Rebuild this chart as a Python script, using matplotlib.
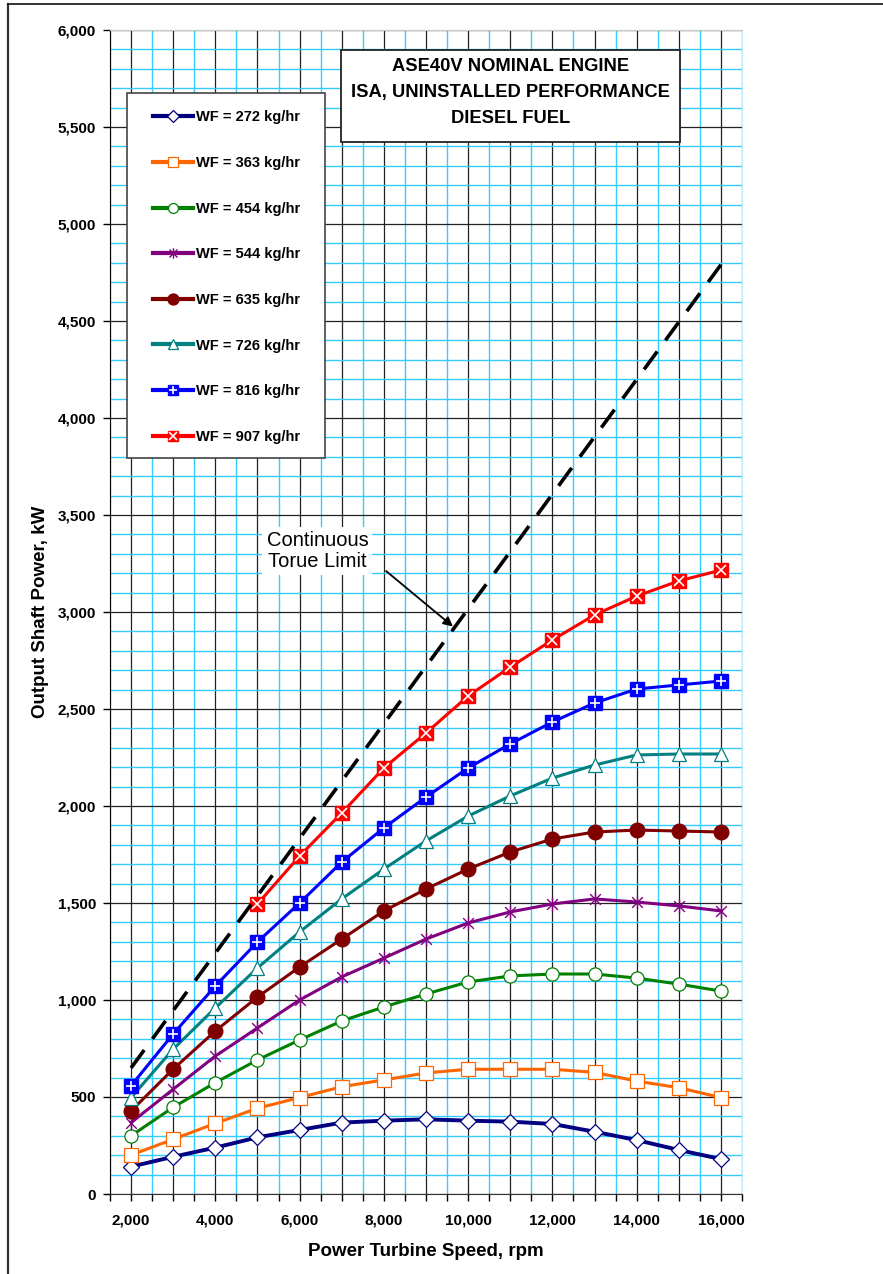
import matplotlib
matplotlib.use('Agg')
import matplotlib.pyplot as plt
import matplotlib.ticker as ticker
from matplotlib.lines import Line2D
from matplotlib.patches import Rectangle
from matplotlib.path import Path
import numpy as np

# plot settings
plt.rcParams['font.family'] = ['Liberation Sans', 'DejaVu Sans']
plt.rcParams['font.weight'] = 'bold'
plt.rcParams['lines.scale_dashes'] = False

navy = '#000080'
orange = '#FF6600'
green = '#008000'
purple = '#800080'
darkred = '#800000'
teal = '#008080'
blue = '#0000FF'
red = '#FF0000'
cyan = '#33CCFF'

# data
rpm = [2000, 3000, 4000, 5000, 6000, 7000, 8000, 9000, 10000, 11000, 12000, 13000, 14000, 15000, 16000]
wf272 = [141, 192, 239, 292, 330, 368, 378, 385, 378, 373, 361, 321, 278, 227, 180]
wf363 = [201, 282, 364, 442, 497, 553, 588, 624, 643, 643, 643, 627, 582, 548, 497]
wf454 = [300, 447, 574, 691, 794, 892, 964, 1031, 1093, 1124, 1134, 1134, 1113, 1082, 1046]
wf544 = [368, 540, 711, 856, 1000, 1119, 1216, 1314, 1397, 1454, 1495, 1521, 1505, 1485, 1459]
wf635 = [428, 644, 840, 1015, 1170, 1314, 1459, 1572, 1675, 1763, 1830, 1866, 1876, 1871, 1866]
wf726 = [497, 747, 959, 1165, 1351, 1521, 1675, 1820, 1948, 2052, 2144, 2211, 2263, 2268, 2268]
wf816 = [558, 825, 1072, 1299, 1500, 1711, 1887, 2046, 2196, 2320, 2433, 2531, 2603, 2624, 2644]
rpm907 = [5000, 6000, 7000, 8000, 9000, 10000, 11000, 12000, 13000, 14000, 15000, 16000]
wf907 = [1495, 1742, 1964, 2196, 2376, 2567, 2716, 2856, 2985, 3082, 3160, 3216]
limit_rpm = [2000, 16000]
limit_kw = [650, 4790]

labels = ['WF = 272 kg/hr', 'WF = 363 kg/hr', 'WF = 454 kg/hr', 'WF = 544 kg/hr',
          'WF = 635 kg/hr', 'WF = 726 kg/hr', 'WF = 816 kg/hr', 'WF = 907 kg/hr']

# asterisk marker like excel (x plus vertical bar)
star = Path([(-1, -1), (1, 1), (-1, 1), (1, -1), (0, -1.3), (0, 1.3)],
            [Path.MOVETO, Path.LINETO, Path.MOVETO, Path.LINETO, Path.MOVETO, Path.LINETO])

fig = plt.figure(figsize=(8.83, 12.74), dpi=100)
ax = fig.add_axes([110/883, 1-1194/1274, 632/883, 1164/1274])

lw = 2.2
handles = []
h, = ax.plot(rpm, wf272, '-', color=navy, lw=2.8, marker='D', ms=8.5, mfc='white', mec=navy, mew=0.9)
handles.append(h)
h, = ax.plot(rpm, wf363, '-', color=orange, lw=lw, marker='s', ms=9.5, mfc='white', mec=orange, mew=0.9)
handles.append(h)
h, = ax.plot(rpm, wf454, '-', color=green, lw=lw, marker='o', ms=9.5, mfc='white', mec=green, mew=0.9)
handles.append(h)
h, = ax.plot(rpm, wf544, '-', color=purple, lw=lw, marker=star, ms=10, mec=purple, mew=1.0)
handles.append(h)
h, = ax.plot(rpm, wf635, '-', color=darkred, lw=lw, marker='o', ms=10.5, mfc=darkred, mec=darkred)
handles.append(h)
h, = ax.plot(rpm, wf726, '-', color=teal, lw=lw, marker='^', ms=10, mfc='white', mec=teal, mew=0.9)
handles.append(h)
h1, = ax.plot(rpm, wf816, '-', color=blue, lw=lw, marker='s', ms=9.5, mfc=blue, mec=blue)
h2, = ax.plot(rpm, wf816, 'None', marker='+', ms=7.5, mec='white', mew=1.2)
handles.append((h1, h2))
h1, = ax.plot(rpm907, wf907, '-', color=red, lw=lw, marker='s', ms=10, mfc=red, mec=red)
h2, = ax.plot(rpm907, wf907, 'None', marker='x', ms=7.5, mec='white', mew=1.2)
handles.append((h1, h2))

ax.plot(limit_rpm, limit_kw, color='black', lw=2.6, dashes=(16, 10))

# axes and grid
ax.set_xlim(1500, 16500)
ax.set_ylim(0, 6000)
ax.xaxis.set_major_locator(ticker.MultipleLocator(1000))
ax.xaxis.set_minor_locator(ticker.MultipleLocator(500))
ax.xaxis.set_major_formatter(ticker.FuncFormatter(lambda v, p: f'{int(v):,}' if int(v) % 2000 == 0 else ''))
ax.yaxis.set_major_locator(ticker.MultipleLocator(500))
ax.yaxis.set_minor_locator(ticker.MultipleLocator(100))
ax.yaxis.set_major_formatter(ticker.FuncFormatter(lambda v, p: f'{int(v):,}'))
ax.grid(which='minor', color=cyan, lw=1.0)
ax.grid(which='major', color='#222222', lw=0.9)
ax.set_axisbelow(True)
ax.tick_params(axis='both', which='major', direction='out', length=5, width=1, labelsize=11)
ax.tick_params(axis='x', which='minor', direction='out', length=5, width=1)
ax.tick_params(axis='y', which='minor', length=0)
ax.tick_params(axis='x', pad=9)
ax.tick_params(axis='y', pad=5)
ax.spines['top'].set_color('#C8C8C8')
ax.spines['right'].set_color('#BFEFFF')
ax.spines['left'].set_color('black')
ax.spines['bottom'].set_color('#333333')

ax.set_xlabel('Power Turbine Speed, rpm', fontsize=13.5, fontweight='bold', labelpad=11)
ax.set_ylabel('Output Shaft Power, kW', fontsize=13.5, fontweight='bold', labelpad=6)

# title box
ax.add_patch(Rectangle((0.3655, 0.9038), 0.5365, 0.079, transform=ax.transAxes,
                       facecolor='white', edgecolor='#222222', lw=1.3, zorder=5))
ax.text(0.634, 0.9466, 'ASE40V NOMINAL ENGINE\nISA, UNINSTALLED PERFORMANCE\nDIESEL FUEL',
        transform=ax.transAxes, ha='center', va='center', fontsize=13.2, fontweight='bold',
        linespacing=1.7, zorder=6)

# legend box
ax.add_patch(Rectangle((0.0269, 0.6323), 0.3133, 0.3136, transform=ax.transAxes,
                       facecolor='white', edgecolor='#444444', lw=1.2, zorder=5))
leg = ax.legend(handles, labels, loc='upper left', bbox_to_anchor=(0.068, 0.931),
                frameon=False, fontsize=10.5, labelspacing=2.17, handlelength=2.75,
                handletextpad=0.2, borderpad=0, borderaxespad=0, markerscale=0.75)
leg.set_zorder(6)
for ln in leg.get_lines():
    if ln.get_linestyle() != 'None':
        ln.set_linewidth(3.0)

# torque limit note
ax.text(6422, 3314, 'Continuous\nTorue Limit', ha='center', va='center', fontsize=14.5,
        fontweight='normal', linespacing=1.15, zorder=6,
        bbox=dict(facecolor='white', edgecolor='none', pad=3))
ax.annotate('', xy=(9640, 2925), xytext=(8054, 3211),
            arrowprops=dict(arrowstyle='-|>', color='black', lw=1.3, mutation_scale=14,
                            shrinkA=0, shrinkB=0), zorder=6)

# outer frame lines
fig.add_artist(Line2D([8/883, 8/883], [0, 1-4/1274], color='#333333', lw=1.6))
fig.add_artist(Line2D([8/883, 1], [1-4/1274, 1-4/1274], color='#111111', lw=1.2))

plt.savefig('out.png', dpi=100)
